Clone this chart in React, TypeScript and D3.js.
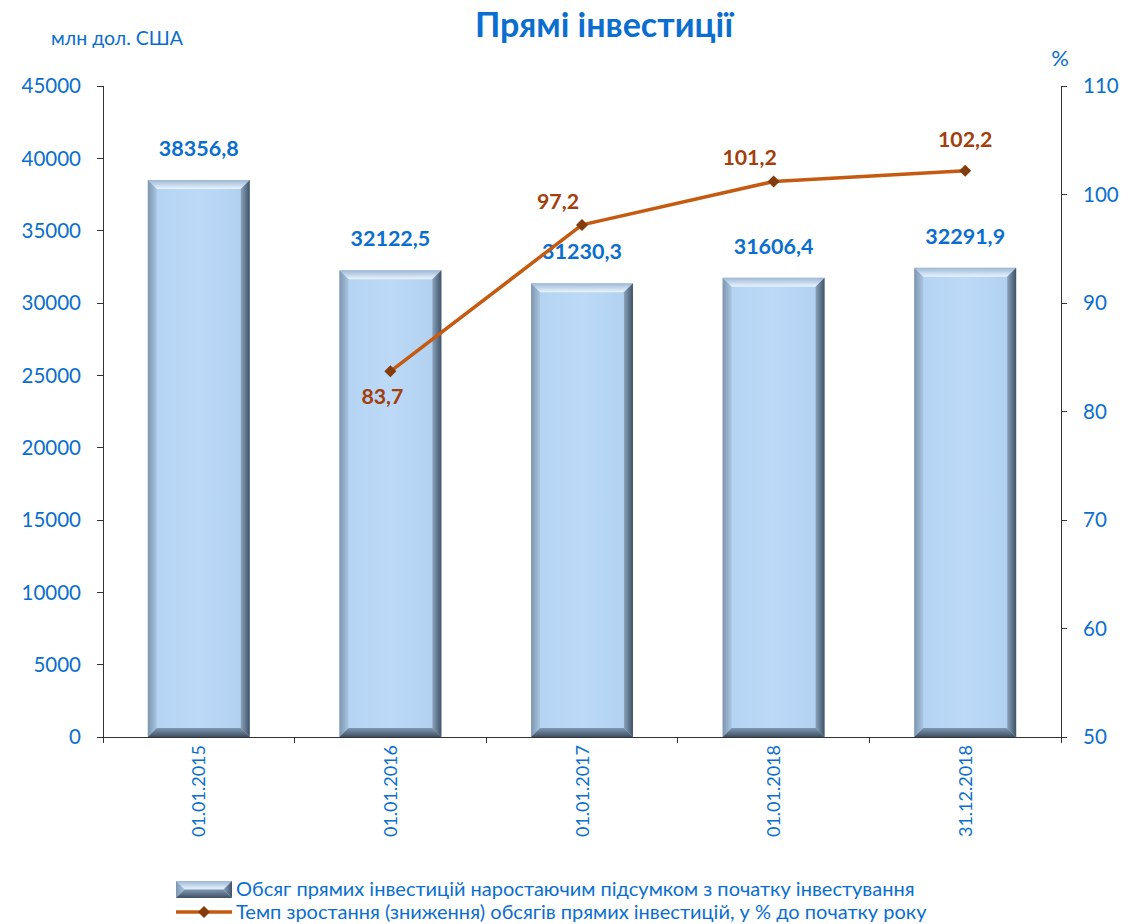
import React from "react";
import * as d3 from "d3";

const categories = ["01.01.2015", "01.01.2016", "01.01.2017", "01.01.2018", "31.12.2018"];
const investVolume = [38356.8, 32122.5, 31230.3, 31606.4, 32291.9];
const growthRate: (number | null)[] = [null, 83.7, 97.2, 101.2, 102.2];
const leftTicks = [0, 5000, 10000, 15000, 20000, 25000, 30000, 35000, 40000, 45000];
const rightTicks = [50, 60, 70, 80, 90, 100, 110];
const rateLabelPlacement = ["none", "below", "aboveLeft", "aboveLeft", "above"];
const legendLabels = [
  "Обсяг прямих інвестицій наростаючим підсумком з початку інвестування",
  "Темп зростання (зниження) обсягів прямих інвестицій, у % до початку року",
];

const W = 1133;
const H = 924;
const m = { left: 103, right: 1061, top: 86, bottom: 737 };
const FONT = "Lato, 'Open Sans', sans-serif";
const BLUE = "#0A6ECF";
const BROWN = "#A23E0B";

export default function App() {
  const x = d3.scaleBand<string>().domain(categories).range([m.left, m.right]).paddingInner(0.468).paddingOuter(0.234);
  const band = d3.scaleBand<string>().domain(categories).range([m.left, m.right]);
  const yL = d3.scaleLinear().domain([0, 45000]).range([m.bottom, m.top]);
  const yR = d3.scaleLinear().domain([50, 110]).range([m.bottom, m.top]);
  const fmt = (v: number) => v.toFixed(1).replace(".", ",");

  const pts = categories
    .map((c, i) => ({ c, v: growthRate[i], i }))
    .filter((p) => p.v !== null) as { c: string; v: number; i: number }[];
  const line = d3
    .line<{ c: string; v: number }>()
    .x((d) => (band(d.c) as number) + band.bandwidth() / 2)
    .y((d) => yR(d.v));

  const bev = 9;
  const bar = (x0: number, y0: number, w: number, h: number, key: string | number) => {
    const x1 = x0 + w;
    const y1 = y0 + h;
    const b = Math.min(bev, h / 2);
    return (
      <g key={key}>
        <rect x={x0} y={y0} width={w} height={h} fill="url(#face)" />
        <polygon points={`${x0},${y0} ${x1},${y0} ${x1 - b},${y0 + b} ${x0 + b},${y0 + b}`} fill="url(#topG)" />
        <polygon points={`${x0},${y0} ${x0 + b},${y0 + b} ${x0 + b},${y1 - b} ${x0},${y1}`} fill="url(#leftG)" />
        <polygon points={`${x1},${y0} ${x1},${y1} ${x1 - b},${y1 - b} ${x1 - b},${y0 + b}`} fill="url(#rightG)" />
        <polygon points={`${x0},${y1} ${x0 + b},${y1 - b} ${x1 - b},${y1 - b} ${x1},${y1}`} fill="url(#botG)" />
      </g>
    );
  };

  const diamond = (cx: number, cy: number, r: number, key?: string | number) => (
    <polygon key={key} points={`${cx},${cy - r} ${cx + r},${cy} ${cx},${cy + r} ${cx - r},${cy}`} fill="#843C0C" />
  );

  return (
    <svg width={W} height={H} style={{ display: "block", position: "absolute", left: 0, top: 0 }} fontFamily={FONT}>
      <defs>
        <linearGradient id="face" x1="0" x2="1" y1="0" y2="0">
          <stop offset="0" stopColor="#B3D2F1" />
          <stop offset="0.5" stopColor="#BCDAF8" />
          <stop offset="1" stopColor="#B0CFEE" />
        </linearGradient>
        <linearGradient id="topG" x1="0" x2="0" y1="0" y2="1">
          <stop offset="0" stopColor="#9DB8D4" />
          <stop offset="1" stopColor="#EAF4FF" />
        </linearGradient>
        <linearGradient id="leftG" x1="0" x2="1" y1="0" y2="0">
          <stop offset="0" stopColor="#7E95AD" />
          <stop offset="1" stopColor="#A9C6E3" />
        </linearGradient>
        <linearGradient id="rightG" x1="0" x2="1" y1="0" y2="0">
          <stop offset="0" stopColor="#8AA3BD" />
          <stop offset="1" stopColor="#3F5266" />
        </linearGradient>
        <linearGradient id="botG" x1="0" x2="0" y1="0" y2="1">
          <stop offset="0" stopColor="#7F98B2" />
          <stop offset="1" stopColor="#3E4F62" />
        </linearGradient>
      </defs>
      <rect width={W} height={H} fill="#fff" />

      <text x={604} y={37} textAnchor="middle" fontSize={34} fontWeight="bold" fill={BLUE}>
        Прямі інвестиції
      </text>
      <text x={117} y={45} textAnchor="middle" fontSize={19.5} fill={BLUE}>
        млн дол. США
      </text>
      <text x={1060} y={66} textAnchor="middle" fontSize={22} fill={BLUE}>
        %
      </text>

      {/* bars */}
      {categories.map((c, i) => {
        const x0 = x(c) as number;
        const y0 = yL(investVolume[i]) - 2;
        return bar(x0, y0, x.bandwidth(), m.bottom - y0, i);
      })}

      {/* axes */}
      <g stroke="#333" strokeWidth={1} shapeRendering="crispEdges">
        <line x1={m.left} x2={m.left} y1={m.top} y2={m.bottom} />
        <line x1={m.right} x2={m.right} y1={m.top} y2={m.bottom} />
        <line x1={m.left} x2={m.right} y1={m.bottom} y2={m.bottom} />
        {leftTicks.map((t) => (
          <line key={"lt" + t} x1={m.left - 6} x2={m.left} y1={yL(t)} y2={yL(t)} />
        ))}
        {rightTicks.map((t) => (
          <line key={"rt" + t} x1={m.right} x2={m.right + 6} y1={yR(t)} y2={yR(t)} />
        ))}
        {categories.map((c, i) => (
          <line key={"xt" + i} x1={band(c) as number} x2={band(c) as number} y1={m.bottom} y2={m.bottom + 6} />
        ))}
        <line x1={m.right} x2={m.right} y1={m.bottom} y2={m.bottom + 6} />
      </g>
      {leftTicks.map((t) => (
        <text key={"ll" + t} x={81} y={yL(t)} dy="0.36em" textAnchor="end" fontSize={20.5} fill={BLUE}>
          {t}
        </text>
      ))}
      {rightTicks.map((t) => (
        <text key={"rl" + t} x={1083} y={yR(t)} dy="0.36em" textAnchor="start" fontSize={20.5} fill={BLUE}>
          {t}
        </text>
      ))}
      {categories.map((c) => {
        const cx = (band(c) as number) + band.bandwidth() / 2;
        return (
          <text key={"xl" + c} transform={`translate(${cx + 6.5},745) rotate(-90)`} textAnchor="end" fontSize={18} fill={BLUE}>
            {c}
          </text>
        );
      })}

      {/* bar labels */}
      {categories.map((c, i) => (
        <text
          key={"bl" + i}
          x={(band(c) as number) + band.bandwidth() / 2}
          y={yL(investVolume[i]) - 26}
          textAnchor="middle"
          fontSize={21.5}
          fontWeight="bold"
          fill={BLUE}
        >
          {fmt(investVolume[i])}
        </text>
      ))}

      {/* line */}
      <path d={line(pts) as string} fill="none" stroke="#C55A11" strokeWidth={3.5} strokeLinejoin="round" />
      {pts.map((p) => diamond((band(p.c) as number) + band.bandwidth() / 2, yR(p.v), 6, "d" + p.i))}
      {pts.map((p) => {
        const cx = (band(p.c) as number) + band.bandwidth() / 2;
        const cy = yR(p.v);
        const pl = rateLabelPlacement[p.i];
        let lx = cx;
        let ly = cy - 24;
        if (pl === "below") {
          lx = cx - 8;
          ly = cy + 33;
        } else if (pl === "aboveLeft") {
          lx = cx - 24;
          ly = cy - 16;
        }
        return (
          <text key={"rl" + p.i} x={lx} y={ly} textAnchor="middle" fontSize={21.3} fontWeight="bold" fill={BROWN}>
            {fmt(p.v)}
          </text>
        );
      })}

      {/* legend */}
      {bar(176, 881, 56, 17, "legbar")}
      <text x={236} y={896} fontSize={20} fill={BLUE}>
        {legendLabels[0]}
      </text>
      <line x1={176} x2={232} y1={912} y2={912} stroke="#C55A11" strokeWidth={3.5} />
      {diamond(204, 912, 6)}
      <text x={236} y={918.5} fontSize={20} fill={BLUE}>
        {legendLabels[1]}
      </text>
    </svg>
  );
}
